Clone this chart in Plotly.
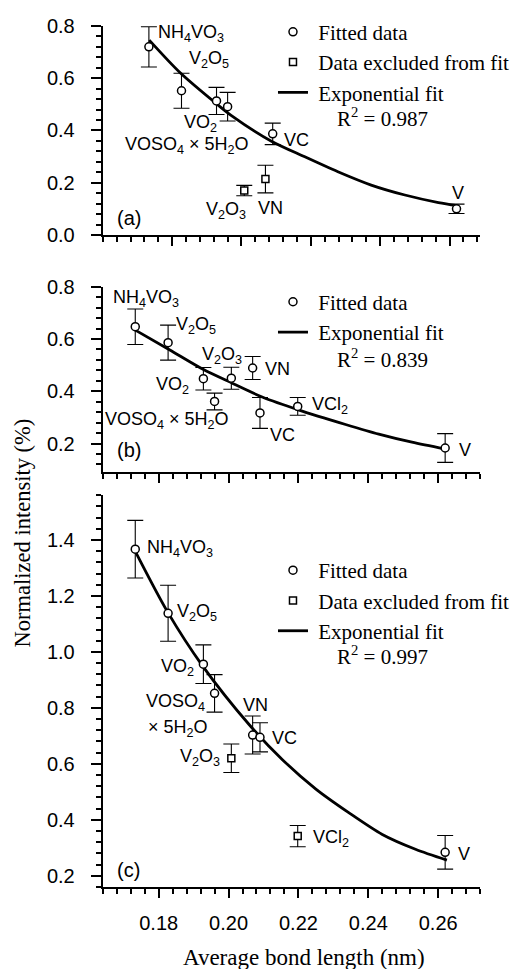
import plotly.graph_objects as go

SANS = "Liberation Sans, Arial, sans-serif"
SERIF = "Liberation Serif, Times New Roman, serif"

# ---------------- data ----------------
compounds = ["NH4VO3", "V2O5", "VO2", "VOSO4", "V2O3", "VN", "VC", "VCl2", "V"]
bond_length = [0.1733, 0.1827, 0.1928, 0.1960, 0.2008, 0.2069, 0.2090, 0.2198, 0.2620]

# panel (a)
a_fit_names = ["NH4VO3", "V2O5", "VO2", "VOSO4", "VC", "V"]
a_fit_vals = [0.720, 0.552, 0.513, 0.491, 0.387, 0.100]
a_fit_err = [0.077, 0.067, 0.052, 0.055, 0.041, 0.018]
a_exc_names = ["V2O3", "VN"]
a_exc_vals = [0.170, 0.214]
a_exc_err = [0.020, 0.053]
a_curve_x = [0.1734, 0.1824, 0.1930, 0.1969, 0.2085, 0.2181, 0.2278, 0.2374, 0.2471, 0.2568, 0.2623]
a_curve_y = [0.746, 0.620, 0.500, 0.459, 0.360, 0.300, 0.242, 0.191, 0.153, 0.124, 0.112]
a_r2 = "0.987"

# panel (b)
b_fit_names = ["NH4VO3", "V2O5", "VO2", "VOSO4", "V2O3", "VN", "VC", "VCl2", "V"]
b_fit_vals = [0.647, 0.586, 0.448, 0.361, 0.450, 0.489, 0.317, 0.342, 0.183]
b_fit_err = [0.068, 0.067, 0.043, 0.032, 0.042, 0.044, 0.059, 0.034, 0.055]
b_exc_names = []
b_exc_vals = []
b_exc_err = []
b_curve_x = [0.1732, 0.1832, 0.1927, 0.2012, 0.2098, 0.2202, 0.2335, 0.2430, 0.2525, 0.2620]
b_curve_y = [0.635, 0.558, 0.484, 0.430, 0.377, 0.328, 0.273, 0.236, 0.205, 0.179]
b_r2 = "0.839"

# panel (c)
c_fit_names = ["NH4VO3", "V2O5", "VO2", "VOSO4", "VN", "VC", "V"]
c_fit_vals = [1.367, 1.138, 0.956, 0.852, 0.703, 0.695, 0.284]
c_fit_err = [0.103, 0.100, 0.069, 0.067, 0.068, 0.052, 0.060]
c_exc_names = ["V2O3", "VCl2"]
c_exc_vals = [0.620, 0.342]
c_exc_err = [0.051, 0.038]
c_curve_x = [0.1732, 0.1825, 0.1924, 0.2060, 0.2155, 0.2250, 0.2345, 0.2440, 0.2535, 0.2625]
c_curve_y = [1.362, 1.144, 0.953, 0.739, 0.614, 0.510, 0.425, 0.348, 0.295, 0.256]
c_r2 = "0.997"

x_tick_vals = [0.18, 0.20, 0.22, 0.24, 0.26]
x_tick_text = ["0.18", "0.20", "0.22", "0.24", "0.26"]

label_text = {
    "NH4VO3": "NH<sub>4</sub>VO<sub>3</sub>",
    "V2O5": "V<sub>2</sub>O<sub>5</sub>",
    "VO2": "VO<sub>2</sub>",
    "VOSO4": "VOSO<sub>4</sub> × 5H<sub>2</sub>O",
    "VOSO4a": "VOSO<sub>4</sub>",
    "VOSO4b": "× 5H<sub>2</sub>O",
    "V2O3": "V<sub>2</sub>O<sub>3</sub>",
    "VN": "VN",
    "VC": "VC",
    "VCl2": "VCl<sub>2</sub>",
    "V": "V",
}

# label placement: (compound, text key, xanchor, xshift px, yshift px)
a_labels = [("NH4VO3", "NH4VO3", "left", 7, 13), ("V2O5", "V2O5", "left", 6, 31),
            ("VO2", "VO2", "right", 2, -23), ("VOSO4", "VOSO4", "center", -41, -39),
            ("VC", "VC", "left", 9, -6), ("V2O3", "V2O3", "center", -18, -20),
            ("VN", "VN", "center", 5, -29), ("V", "V", "center", 1, 16)]
b_labels = [("NH4VO3", "NH4VO3", "left", -24, 28), ("V2O5", "V2O5", "left", 6, 17),
            ("V2O3", "V2O3", "left", -31, 23), ("VN", "VN", "left", 10, -1),
            ("VO2", "VO2", "right", -12, -7), ("VOSO4", "VOSO4", "center", -48, -19),
            ("VC", "VC", "left", 8, -22), ("VCl2", "VCl2", "left", 12, 1),
            ("V", "V", "left", 12, -2)]
c_labels = [("NH4VO3", "NH4VO3", "left", 10, 1), ("V2O5", "V2O5", "left", 7, 1),
            ("VO2", "VO2", "right", -7, -3), ("VOSO4", "VOSO4a", "right", -8, -9),
            ("VOSO4", "VOSO4b", "left", -69, -35), ("VN", "VN", "center", 3, 30),
            ("VC", "VC", "left", 10, -1), ("V2O3", "V2O3", "right", -9, 1),
            ("VCl2", "VCl2", "left", 13, -2), ("V", "V", "left", 11, -2)]

panels = [
    dict(fn=a_fit_names, fv=a_fit_vals, fe=a_fit_err, en=a_exc_names, ev=a_exc_vals, ee=a_exc_err,
         cx=a_curve_x, cy=a_curve_y, r2=a_r2, labels=a_labels, tag="(a)",
         xrange=[0.16, 0.2688], yrange=[0.0, 0.8], ydom=[0.7575, 0.9732],
         leg_y=0.988, r2_y=0.8785, tag_y=0.775),
    dict(fn=b_fit_names, fv=b_fit_vals, fe=b_fit_err, en=b_exc_names, ev=b_exc_vals, ee=b_exc_err,
         cx=b_curve_x, cy=b_curve_y, r2=b_r2, labels=b_labels, tag="(b)",
         xrange=[0.164, 0.272], yrange=[0.09, 0.8], ydom=[0.5126, 0.7041],
         leg_y=0.7094, r2_y=0.6302, tag_y=0.5356),
    dict(fn=c_fit_names, fv=c_fit_vals, fe=c_fit_err, en=c_exc_names, ev=c_exc_vals, ee=c_exc_err,
         cx=c_curve_x, cy=c_curve_y, r2=c_r2, labels=c_labels, tag="(c)",
         xrange=[0.164, 0.272], yrange=[0.16, 1.56], ydom=[0.0846, 0.4890],
         leg_y=0.4324, r2_y=0.3240, tag_y=0.1022),
]

XDOM = [0.195, 0.911]
LEG_X = 0.518
SP = "\u00a0"

fig = go.Figure()
annotations = []
layout = {}

for i, p in enumerate(panels):
    sfx = "" if i == 0 else str(i + 1)
    xa, ya, lg = "x" + sfx, "y" + sfx, "legend" + sfx
    xv = {c: bond_length[compounds.index(c)] for c in compounds}

    fig.add_trace(go.Scatter(
        x=p["cx"], y=p["cy"], mode="lines", name=SP + "Exponential fit",
        line=dict(color="black", width=2.8, shape="spline", smoothing=0.8),
        xaxis=xa, yaxis=ya, legend=lg, legendrank=3, hoverinfo="skip"))
    fig.add_trace(go.Scatter(
        x=[xv[c] for c in p["fn"]], y=p["fv"], mode="markers", name=SP + "Fitted data",
        error_y=dict(type="data", array=p["fe"], color="black", thickness=1.1, width=8),
        marker=dict(symbol="circle", size=8, color="white", line=dict(color="black", width=1.5)),
        xaxis=xa, yaxis=ya, legend=lg, legendrank=1))
    if p["en"]:
        fig.add_trace(go.Scatter(
            x=[xv[c] for c in p["en"]], y=p["ev"], mode="markers",
            name=SP + "Data excluded from fit",
            error_y=dict(type="data", array=p["ee"], color="black", thickness=1.1, width=8),
            marker=dict(symbol="square", size=7, color="white", line=dict(color="black", width=1.5)),
            xaxis=xa, yaxis=ya, legend=lg, legendrank=2))

    vals = dict(zip(p["fn"], p["fv"]))
    vals.update(dict(zip(p["en"], p["ev"])))
    for comp, key, xanc, dx, dy in p["labels"]:
        annotations.append(dict(
            x=xv[comp], y=vals[comp], xref=xa, yref=ya, text=label_text[key],
            showarrow=False, xanchor=xanc, yanchor="middle", xshift=dx, yshift=dy,
            font=dict(family=SANS, size=18, color="black")))

    annotations.append(dict(
        x=0.636, y=p["r2_y"], xref="paper", yref="paper", xanchor="left", yanchor="middle",
        text="R<sup>2</sup> = " + p["r2"], showarrow=False,
        font=dict(family=SERIF, size=21, color="black")))
    annotations.append(dict(
        x=0.218, y=p["tag_y"], xref="paper", yref="paper", xanchor="left", yanchor="middle",
        text=p["tag"], showarrow=False, font=dict(family=SANS, size=20, color="black")))

    layout["xaxis" + sfx] = dict(
        domain=XDOM, anchor=ya, range=p["xrange"], showline=True, linecolor="black", linewidth=2,
        ticks="outside", ticklen=9, tickwidth=1.5, tickcolor="black",
        tickvals=x_tick_vals, ticktext=x_tick_text, showticklabels=(i == 2),
        ticklabelstandoff=8, automargin=False,
        tickfont=dict(family=SANS, size=20, color="black"), showgrid=False, zeroline=False,
        minor=dict(ticks="outside", ticklen=5, tickwidth=1.5, tickcolor="black", dtick=0.004,
                   tick0=0.0, showgrid=False))
    layout["yaxis" + sfx] = dict(
        domain=p["ydom"], anchor=xa, range=p["yrange"], showline=True, linecolor="black", linewidth=2,
        ticks="outside", ticklen=10, tickwidth=1.5, tickcolor="black", dtick=0.2, tick0=0.0,
        tickformat=".1f", ticklabelstandoff=12, automargin=False,
        tickfont=dict(family=SANS, size=20, color="black"), showgrid=False, zeroline=False,
        minor=dict(ticks="outside", ticklen=5, tickwidth=1.5, tickcolor="black", dtick=0.04,
                   tick0=0.0, showgrid=False))
    layout[lg] = dict(
        x=LEG_X, y=p["leg_y"], xanchor="left", yanchor="top", bgcolor="rgba(0,0,0,0)",
        borderwidth=0, font=dict(family=SERIF, size=21, color="black"), traceorder="normal",
        itemwidth=30)

annotations.append(dict(
    x=0.0417, y=0.4505, xref="paper", yref="paper", text="Normalized intensity (%)",
    textangle=-90, showarrow=False, xanchor="center", yanchor="middle",
    font=dict(family=SERIF, size=22.5, color="black")))
annotations.append(dict(
    x=0.577, y=0.0114, xref="paper", yref="paper", text="Average bond length (nm)",
    showarrow=False, xanchor="center", yanchor="middle",
    font=dict(family=SERIF, size=23, color="black")))

fig.update_layout(
    width=527, height=969, margin=dict(l=0, r=0, t=0, b=0, pad=0, autoexpand=False),
    paper_bgcolor="white", plot_bgcolor="white", showlegend=True,
    annotations=annotations, **layout)

fig.write_html(
    "out.html",
    config={"displayModeBar": False},
    post_script="document.body.style.margin='0px';document.body.style.padding='0px';"
                "document.documentElement.style.overflow='hidden';")
